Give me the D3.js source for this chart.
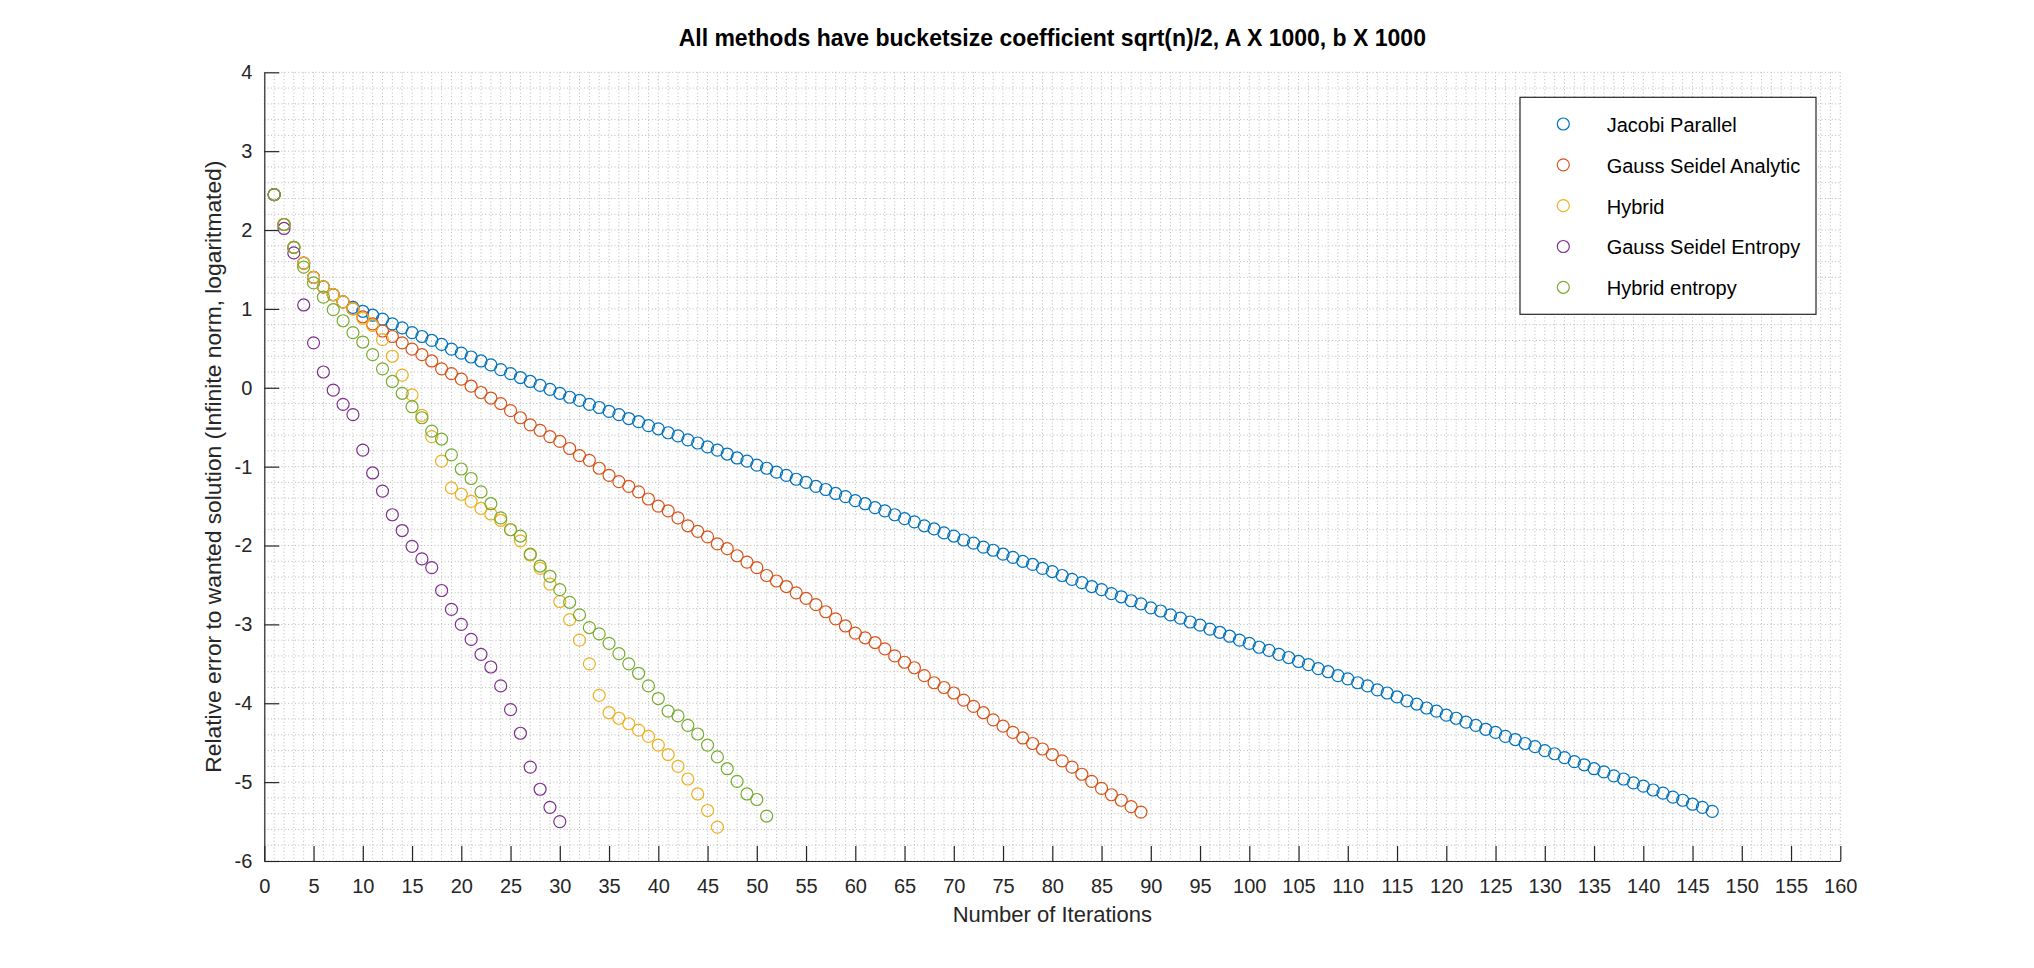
<!DOCTYPE html>
<html>
<head>
<meta charset="utf-8">
<script src="https://cdn.jsdelivr.net/npm/d3@7"></script>
<style>
  html, body { margin: 0; padding: 0; background: #ffffff; }
  svg { display: block; }
  text { font-family: "Liberation Sans", Arial, Helvetica, sans-serif; fill: #262626; }
</style>
</head>
<body>
<div id="chart"></div>
<script>
// ---------------- data ----------------
const chartTitle = "All methods have bucketsize coefficient sqrt(n)/2, A X 1000, b X 1000";
const xLabel = "Number of Iterations";
const yLabel = "Relative error to wanted solution (Infinite norm, logaritmated)";

const seriesNames = ["Jacobi Parallel", "Gauss Seidel Analytic", "Hybrid", "Gauss Seidel Entropy", "Hybrid entropy"];
const seriesColors = ["#0072BD", "#D95319", "#EDB120", "#7E2F8E", "#77AC30"];

const xTicks = [0,5,10,15,20,25,30,35,40,45,50,55,60,65,70,75,80,85,90,95,100,105,110,115,120,125,130,135,140,145,150,155,160];
const yTicks = [-6,-5,-4,-3,-2,-1,0,1,2,3,4];

// values per iteration (iteration k = index + 1)
const jacobiParallel = [
  2.45, 2.07, 1.78, 1.58, 1.40, 1.28, 1.18, 1.09, 1.02, 0.97,
  0.92, 0.87, 0.81, 0.76, 0.70, 0.65, 0.60, 0.55, 0.49, 0.44,
  0.39, 0.34, 0.29, 0.23, 0.18, 0.13, 0.08, 0.03, -0.02, -0.07,
  -0.12, -0.16, -0.21, -0.25, -0.30, -0.34, -0.39, -0.43, -0.48, -0.52,
  -0.57, -0.61, -0.66, -0.70, -0.75, -0.79, -0.84, -0.89, -0.93, -0.98,
  -1.02, -1.07, -1.11, -1.16, -1.20, -1.25, -1.29, -1.34, -1.38, -1.43,
  -1.47, -1.52, -1.56, -1.61, -1.66, -1.70, -1.75, -1.79, -1.84, -1.88,
  -1.93, -1.97, -2.02, -2.06, -2.11, -2.15, -2.20, -2.24, -2.29, -2.33,
  -2.38, -2.43, -2.47, -2.52, -2.56, -2.61, -2.65, -2.70, -2.74, -2.79,
  -2.83, -2.88, -2.92, -2.97, -3.01, -3.06, -3.10, -3.15, -3.20, -3.24,
  -3.29, -3.33, -3.38, -3.42, -3.47, -3.51, -3.56, -3.60, -3.65, -3.69,
  -3.74, -3.78, -3.83, -3.87, -3.92, -3.97, -4.01, -4.06, -4.10, -4.15,
  -4.19, -4.24, -4.28, -4.33, -4.37, -4.42, -4.46, -4.51, -4.55, -4.60,
  -4.64, -4.69, -4.74, -4.78, -4.83, -4.87, -4.92, -4.96, -5.01, -5.05,
  -5.10, -5.14, -5.19, -5.23, -5.28, -5.32, -5.37
];
const gaussSeidelAnalytic = [
  2.45, 2.07, 1.78, 1.58, 1.40, 1.28, 1.18, 1.09, 1.00, 0.90,
  0.81, 0.72, 0.65, 0.57, 0.49, 0.42, 0.34, 0.24, 0.18, 0.11,
  0.02, -0.06, -0.13, -0.20, -0.29, -0.38, -0.47, -0.54, -0.62, -0.68,
  -0.77, -0.86, -0.92, -1.02, -1.11, -1.19, -1.25, -1.32, -1.41, -1.50,
  -1.56, -1.65, -1.75, -1.82, -1.89, -1.98, -2.04, -2.13, -2.21, -2.28,
  -2.38, -2.45, -2.52, -2.60, -2.67, -2.75, -2.84, -2.93, -3.02, -3.11,
  -3.17, -3.23, -3.31, -3.40, -3.48, -3.55, -3.65, -3.74, -3.80, -3.87,
  -3.96, -4.04, -4.12, -4.21, -4.29, -4.37, -4.44, -4.51, -4.58, -4.65,
  -4.73, -4.81, -4.90, -4.99, -5.08, -5.16, -5.23, -5.31, -5.38
];
const hybrid = [
  2.45, 2.07, 1.78, 1.58, 1.40, 1.28, 1.18, 1.09, 1.00, 0.88,
  0.79, 0.61, 0.40, 0.16, -0.09, -0.35, -0.62, -0.93, -1.27, -1.35,
  -1.44, -1.53, -1.60, -1.68, -1.80, -1.94, -2.12, -2.29, -2.49, -2.71,
  -2.94, -3.20, -3.50, -3.90, -4.12, -4.19, -4.26, -4.34, -4.42, -4.53,
  -4.65, -4.80, -4.96, -5.15, -5.36, -5.57
];
const gaussSeidelEntropy = [
  2.45, 2.02, 1.71, 1.05, 0.57, 0.20, -0.03, -0.21, -0.34, -0.79,
  -1.08, -1.31, -1.61, -1.81, -2.01, -2.17, -2.28, -2.57, -2.81, -3.00,
  -3.19, -3.38, -3.54, -3.78, -4.08, -4.38, -4.81, -5.09, -5.32, -5.50
];
const hybridEntropy = [
  2.45, 2.07, 1.78, 1.53, 1.33, 1.15, 0.99, 0.85, 0.70, 0.58,
  0.42, 0.24, 0.08, -0.07, -0.24, -0.38, -0.55, -0.65, -0.85, -1.03,
  -1.15, -1.32, -1.47, -1.65, -1.80, -1.88, -2.11, -2.26, -2.39, -2.56,
  -2.72, -2.88, -3.04, -3.12, -3.24, -3.37, -3.50, -3.62, -3.78, -3.94,
  -4.10, -4.16, -4.28, -4.39, -4.53, -4.68, -4.83, -4.99, -5.15, -5.22,
  -5.43
];
const seriesValues = [jacobiParallel, gaussSeidelAnalytic, hybrid, gaussSeidelEntropy, hybridEntropy];

// ---------------- layout ----------------
const W = 2034, H = 968;
const plot = { left: 264.3, right: 1840.3, top: 72.3, bottom: 861 };
const axisColor = "#262626";
const markerR = 6;

const svg = d3.select("#chart").append("svg")
  .attr("width", W).attr("height", H)
  .attr("viewBox", `0 0 ${W} ${H}`);

svg.append("rect").attr("width", W).attr("height", H).attr("fill", "#ffffff");

const x = d3.scaleLinear().domain([0, 160]).range([plot.left, plot.right]);
const y = d3.scaleLinear().domain([-6, 4]).range([plot.bottom, plot.top]);

// ---------------- grid (dotted, major + minor) ----------------
const grid = svg.append("g").attr("class", "grid");
const xGridVals = d3.range(0, 161, 1);
const yGridVals = d3.range(0, 51).map(i => -6 + i * 0.2);

grid.selectAll("line.vx").data(xGridVals).join("line")
  .attr("class", "vx")
  .attr("x1", d => x(d)).attr("x2", d => x(d))
  .attr("y1", plot.top).attr("y2", plot.bottom)
  .attr("stroke", "#b8b8b8").attr("stroke-width", 1)
  .attr("stroke-dasharray", "1,2.4");

grid.selectAll("line.hy").data(yGridVals).join("line")
  .attr("class", "hy")
  .attr("x1", plot.left).attr("x2", plot.right)
  .attr("y1", d => y(d)).attr("y2", d => y(d))
  .attr("stroke", "#b8b8b8").attr("stroke-width", 1)
  .attr("stroke-dasharray", "1,2.4");

// ---------------- axes ----------------
const fmt = d => String(d);

const xAxis = d3.axisBottom(x)
  .tickValues(xTicks)
  .tickFormat(fmt)
  .tickSizeInner(-15)
  .tickSizeOuter(0)
  .tickPadding(18);

const yAxis = d3.axisLeft(y)
  .tickValues(yTicks)
  .tickFormat(fmt)
  .tickSizeInner(-15)
  .tickSizeOuter(0)
  .tickPadding(12);

const gx = svg.append("g")
  .attr("transform", `translate(0,${plot.bottom})`)
  .call(xAxis);
const gy = svg.append("g")
  .attr("transform", `translate(${plot.left},0)`)
  .call(yAxis);

[gx, gy].forEach(g => {
  g.select(".domain").attr("stroke", axisColor).attr("stroke-width", 1.2);
  g.selectAll(".tick line").attr("stroke", axisColor).attr("stroke-width", 1.2);
  g.selectAll(".tick text")
    .attr("fill", axisColor)
    .style("font-family", "'Liberation Sans', Arial, Helvetica, sans-serif")
    .style("font-size", "20px");
});

// ---------------- markers ----------------
const marksG = svg.append("g").attr("class", "marks");
seriesValues.forEach((vals, si) => {
  const pts = vals.map((v, i) => ({ it: i + 1, v }));
  marksG.append("g")
    .selectAll("circle").data(pts).join("circle")
    .attr("cx", d => x(d.it))
    .attr("cy", d => y(d.v))
    .attr("r", markerR)
    .attr("fill", "none")
    .attr("stroke", seriesColors[si])
    .attr("stroke-width", 1.2);
});

// ---------------- labels ----------------
svg.append("text")
  .attr("x", (plot.left + plot.right) / 2)
  .attr("y", 46)
  .attr("text-anchor", "middle")
  .style("font-size", "23px")
  .style("font-weight", "bold")
  .style("fill", "#000000")
  .text(chartTitle);

svg.append("text")
  .attr("x", (plot.left + plot.right) / 2)
  .attr("y", 922)
  .attr("text-anchor", "middle")
  .style("font-size", "22px")
  .text(xLabel);

svg.append("text")
  .attr("transform", `translate(221,${(plot.top + plot.bottom) / 2}) rotate(-90)`)
  .attr("text-anchor", "middle")
  .style("font-size", "22.8px")
  .text(yLabel);

// ---------------- legend ----------------
const legend = svg.append("g").attr("class", "legend");
legend.append("rect")
  .attr("x", 1520).attr("y", 97.3)
  .attr("width", 296).attr("height", 217)
  .attr("fill", "#ffffff")
  .attr("stroke", axisColor)
  .attr("stroke-width", 1.2);

const legendRow = d3.scaleLinear().domain([0, 4]).range([124, 287.3]);
const items = legend.selectAll("g.item").data(seriesNames).join("g").attr("class", "item");
items.append("circle")
  .attr("cx", 1563.3)
  .attr("cy", (d, i) => legendRow(i))
  .attr("r", markerR)
  .attr("fill", "none")
  .attr("stroke", (d, i) => seriesColors[i])
  .attr("stroke-width", 1.2);
items.append("text")
  .attr("x", 1606.7)
  .attr("y", (d, i) => legendRow(i) + 8)
  .style("font-size", "20px")
  .style("fill", "#000000")
  .text(d => d);
</script>
</body>
</html>
